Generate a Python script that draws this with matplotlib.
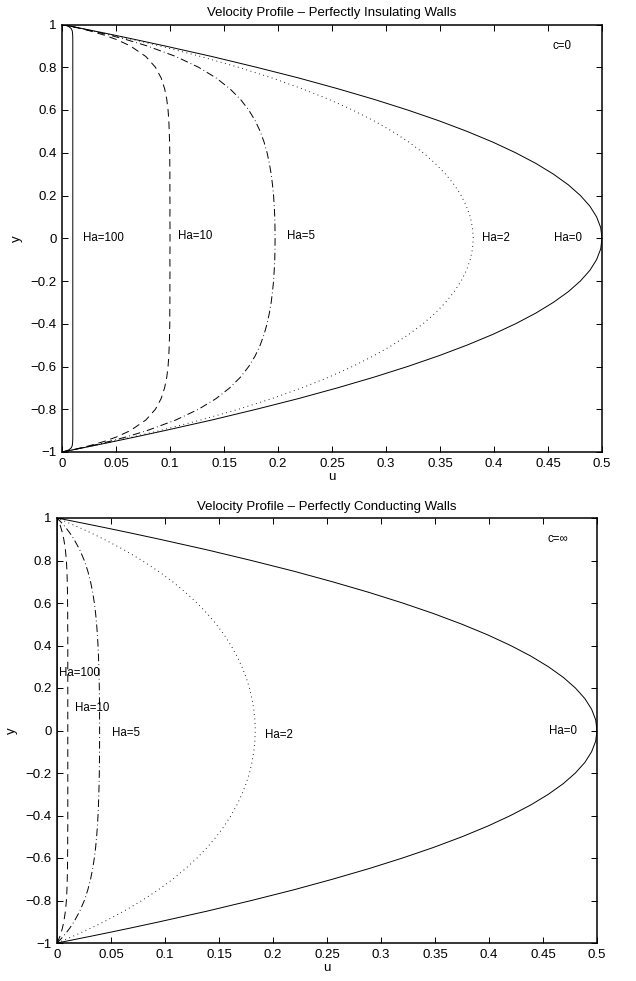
import matplotlib
matplotlib.use("Agg")
import matplotlib.pyplot as plt
import numpy as np

plt.rcParams['font.family'] = ['Liberation Sans', 'DejaVu Sans']
plt.rcParams['lines.scale_dashes'] = False

# half-profile y positions (profiles are symmetric about y=0)
y_half = [0, 0.05, 0.1, 0.15, 0.2, 0.25, 0.3, 0.35, 0.4, 0.45, 0.5, 0.55, 0.6, 0.65,
          0.7, 0.75, 0.8, 0.85, 0.9, 0.93, 0.95, 0.97, 0.98, 0.99, 0.995, 1.0]

# Perfectly insulating walls (c=0)
ins_ha0 = [0.5, 0.4988, 0.495, 0.4888, 0.48, 0.4688, 0.455, 0.4388, 0.42, 0.3988,
           0.375, 0.3488, 0.32, 0.2888, 0.255, 0.219, 0.18, 0.139,
           0.095, 0.0676, 0.0488, 0.0296, 0.0198, 0.00995, 0.0050, 0]
ins_ha2 = [0.3808, 0.3801, 0.3780, 0.3745, 0.3696, 0.3632, 0.3552, 0.3456, 0.3343,
           0.3211, 0.3059, 0.2886, 0.2690, 0.2470, 0.2221, 0.1944, 0.1633, 0.1287,
           0.0903, 0.0651, 0.0475, 0.0291, 0.0196, 0.0099, 0.0050, 0]
ins_ha5 = [0.1973, 0.1972, 0.1970, 0.1965, 0.1959, 0.1949, 0.1937, 0.1920, 0.1899,
           0.1871, 0.1835, 0.1789, 0.1729, 0.1652, 0.1553, 0.1427, 0.1264, 0.1055,
           0.0787, 0.0591, 0.0442, 0.0279, 0.0190, 0.0098, 0.0049, 0]
ins_ha10 = [0.1000, 0.1000, 0.0999, 0.1000, 0.0999, 0.0999, 0.0999, 0.0998, 0.0998,
            0.0996, 0.0993, 0.0989, 0.0982, 0.0970, 0.0950, 0.0918, 0.0865, 0.0777,
            0.0632, 0.0503, 0.0393, 0.0259, 0.0181, 0.0095, 0.0049, 0]
ins_ha100 = [0.0100, 0.0100, 0.0100, 0.0100, 0.0100, 0.0100, 0.0100, 0.0100, 0.0100,
             0.0100, 0.0100, 0.0100, 0.0100, 0.0100, 0.0100, 0.0100, 0.0100, 0.0100,
             0.0100, 0.0100, 0.0099, 0.0095, 0.00865, 0.00632, 0.00393, 0]

# Perfectly conducting walls (c=inf)
con_ha0 = ins_ha0
con_ha2 = [0.1836, 0.1832, 0.1822, 0.1805, 0.1782, 0.1751, 0.1712, 0.1666, 0.1611,
           0.1548, 0.1475, 0.1391, 0.1297, 0.1190, 0.1071, 0.0937, 0.0787, 0.0621,
           0.0435, 0.0314, 0.0229, 0.0140, 0.0094, 0.0048, 0.0024, 0]
con_ha5 = [0.03946, 0.03944, 0.03939, 0.03930, 0.03917, 0.03898, 0.03873, 0.03840,
           0.03797, 0.03741, 0.03669, 0.03577, 0.03457, 0.03304, 0.03107, 0.02853,
           0.02528, 0.02110, 0.01574, 0.01181, 0.00885, 0.00557, 0.00381, 0.00195,
           0.00099, 0]
con_ha10 = [0.0100, 0.0100, 0.0100, 0.0100, 0.0100, 0.0100, 0.0100, 0.0100, 0.0100,
            0.0100, 0.0099, 0.0099, 0.0098, 0.0097, 0.0095, 0.0092, 0.0087, 0.0078,
            0.0063, 0.0050, 0.0039, 0.0026, 0.0018, 0.0010, 0.0005, 0]
con_ha100 = [0.0001, 0.0001, 0.0001, 0.0001, 0.0001, 0.0001, 0.0001, 0.0001, 0.0001,
             0.0001, 0.0001, 0.0001, 0.0001, 0.0001, 0.0001, 0.0001, 0.0001, 0.0001,
             0.0001, 0.0001, 0.0001, 0.000095, 0.000087, 0.000063, 0.000039, 0]

x_ticks = [0, 0.05, 0.1, 0.15, 0.2, 0.25, 0.3, 0.35, 0.4, 0.45, 0.5]
x_tick_labels = ['0', '0.05', '0.1', '0.15', '0.2', '0.25', '0.3', '0.35', '0.4', '0.45', '0.5']
y_ticks = [-1, -0.8, -0.6, -0.4, -0.2, 0, 0.2, 0.4, 0.6, 0.8, 1]
y_tick_labels = ['\u22121', '\u22120.8', '\u22120.6', '\u22120.4', '\u22120.2', '0',
                 '0.2', '0.4', '0.6', '0.8', '1']

titles = ['Velocity Profile \u2013 Perfectly Insulating Walls',
          'Velocity Profile \u2013 Perfectly Conducting Walls']
wall_labels = ['c=0', 'c=\u221e']
ha_names = ['Ha=0', 'Ha=2', 'Ha=5', 'Ha=10', 'Ha=100']

# label anchor positions (data coords)
ins_label_pos = [(0.456, 0.0), (0.389, 0.0), (0.208, 0.01), (0.107, 0.01), (0.019, 0.0)]
con_label_pos = [(0.456, 0.0), (0.193, -0.02), (0.051, -0.012), (0.0167, 0.107), (0.002, 0.272)]

styles = [dict(linestyle='-'),
          dict(linestyle=(0, (0.6, 2.6))),
          dict(linestyle=(0, (5.5, 2.2, 0.6, 2.2))),
          dict(linestyle=(0, (5.5, 3.5))),
          dict(linestyle='-')]


def mirror(half_y, half_u):
    hy = np.asarray(half_y)
    hu = np.asarray(half_u)
    yy = np.concatenate([-hy[::-1], hy[1:]])
    uu = np.concatenate([hu[::-1], hu[1:]])
    return uu, yy


fig = plt.figure(figsize=(6.36, 9.81), dpi=100)
ax_top = fig.add_axes([62 / 636, 1 - 452 / 981, 540 / 636, 427.5 / 981])
ax_bot = fig.add_axes([57 / 636, 1 - 943 / 981, 540 / 636, 425 / 981])

panels = [
    (ax_top, [ins_ha0, ins_ha2, ins_ha5, ins_ha10, ins_ha100], ins_label_pos),
    (ax_bot, [con_ha0, con_ha2, con_ha5, con_ha10, con_ha100], con_label_pos),
]

for i, (ax, series, lpos) in enumerate(panels):
    for u_half, st, name, (lx, ly) in zip(series, styles, ha_names, lpos):
        uu, yy = mirror(y_half, u_half)
        ax.plot(uu, yy, color='black', linewidth=0.7, **st)
        ax.text(lx, ly, name, fontsize=8.3, ha='left', va='center')
    ax.text(0.454, 0.90, wall_labels[i], fontsize=8.3, ha='left', va='center')
    ax.set_xlim(0, 0.5)
    ax.set_ylim(-1, 1)
    ax.set_xticks(x_ticks)
    ax.set_xticklabels(x_tick_labels)
    ax.set_yticks(y_ticks)
    ax.set_yticklabels(y_tick_labels)
    ax.tick_params(direction='in', length=4.5, width=0.7, top=True, right=True,
                   labelsize=9.5, pad=4)
    for sp in ax.spines.values():
        sp.set_linewidth(1.1)
    ax.set_xlabel('u', fontsize=9.5, labelpad=1)
    ax.set_ylabel('y', fontsize=9.5, labelpad=5)
    ax.set_title(titles[i], fontsize=9.5, pad=6)

fig.savefig('out.png', dpi=100)
